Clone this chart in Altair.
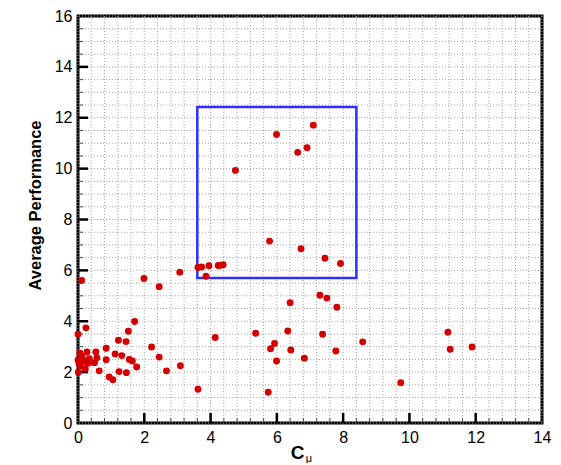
import altair as alt
import pandas as pd

# ---- data ----
cmu = [7.10, 5.99, 6.63, 6.91, 4.75, 5.78, 6.73, 7.45, 7.92, 3.62, 3.73, 3.95, 4.23, 4.30, 4.38, 3.86, 3.07,
       0.11, 1.99, 2.45,
       7.30, 7.51, 6.40, 7.81, 4.14, 5.36, 6.33, 7.38, 8.59, 5.93, 5.81, 6.42, 7.78, 5.99, 6.83, 3.62, 5.74,
       11.16, 11.23, 11.89, 9.74,
       1.71, 0.24, 0.00, 1.52, 1.22, 1.45, 0.85, 2.22, 0.27, 0.54, 1.12, 1.32, 2.45, 0.85, 1.55, 1.64, 1.77,
       0.64, 1.24, 1.46, 2.67, 3.09, 0.94, 1.05, 0.00, 0.17, 0.34, 0.57, 0.50, 0.07, 0.22,
       0.06, 0.12, 0.03, 0.28, 0.38, 0.01]
perf = [11.71, 11.34, 10.64, 10.82, 9.93, 7.15, 6.85, 6.48, 6.27, 6.11, 6.13, 6.18, 6.19, 6.20, 6.22, 5.77, 5.93,
        5.60, 5.68, 5.36,
        5.02, 4.91, 4.73, 4.55, 3.36, 3.53, 3.62, 3.49, 3.19, 3.13, 2.92, 2.87, 2.83, 2.44, 2.55, 1.33, 1.21,
        3.57, 2.90, 2.99, 1.58,
        3.99, 3.74, 3.49, 3.61, 3.25, 3.20, 2.94, 2.99, 2.79, 2.79, 2.71, 2.65, 2.59, 2.49, 2.50, 2.44, 2.20,
        2.05, 2.02, 1.98, 2.05, 2.25, 1.81, 1.70, 2.48, 2.44, 2.53, 2.57, 2.37, 2.24, 2.12,
        2.74, 2.61, 2.34, 2.34, 2.39, 2.00]

box_x1 = [3.6]
box_x2 = [8.4]
box_y1 = [5.70]
box_y2 = [12.42]

x_major = [0, 2, 4, 6, 8, 10, 12, 14]
y_major = [0, 2, 4, 6, 8, 10, 12, 14, 16]
x_grid = [round(0.4 * i, 1) for i in range(36)]
y_grid = [round(0.5 * i, 1) for i in range(33)]
x_major_ticks = [2, 4, 6, 8, 10, 12]
y_major_ticks = [2, 4, 6, 8, 10, 12, 14]
x_minor_ticks = [v for v in x_grid if abs(v / 2 - round(v / 2)) > 1e-6]
y_minor_ticks = [v for v in y_grid if abs(v / 2 - round(v / 2)) > 1e-6]

x_title = ["C"]
x_title_sub = ["μ"]
y_title = "Average Performance"

W, H = 464, 407
FONT = "Liberation Sans"

xs = alt.Scale(domain=[0, 14], nice=False, zero=False)
ys = alt.Scale(domain=[0, 16], nice=False, zero=False)

X_AX = alt.Axis(values=x_major, title=None, ticks=False, grid=False, domain=False, format="d",
                labelFont=FONT, labelFontSize=16, labelColor="black", labelPadding=6,
                labelOverlap=False, labelFlush=False)
Y_AX = alt.Axis(values=y_major, title=y_title, ticks=False, grid=False, domain=False, format="d",
                labelFont=FONT, labelFontSize=16, labelColor="black", labelPadding=6,
                labelOverlap=False, labelFlush=False,
                titleFont=FONT, titleFontSize=16.5, titleFontWeight="bold", titleColor="black",
                titlePadding=11, titleY=189)


def X(field="x"):
    return alt.X(f"{field}:Q", scale=xs, axis=X_AX)


def Y(field="y"):
    return alt.Y(f"{field}:Q", scale=ys, axis=Y_AX)


# grid
grid_v = alt.Chart(pd.DataFrame({"x": x_grid})).mark_rule(
    color="#a0a0a0", strokeDash=[1, 2], strokeWidth=1).encode(x=X())
grid_h = alt.Chart(pd.DataFrame({"y": y_grid})).mark_rule(
    color="#a0a0a0", strokeDash=[1, 2], strokeWidth=1).encode(y=Y())

# inward ticks
xt_major = alt.Chart(pd.DataFrame({"x": x_major_ticks})).mark_rule(color="black", strokeWidth=2.5).encode(
    x=X(), y=alt.value(H), y2=alt.value(H - 10))
xt_minor = alt.Chart(pd.DataFrame({"x": x_minor_ticks})).mark_rule(color="#444444", strokeWidth=1).encode(
    x=X(), y=alt.value(H), y2=alt.value(H - 5))
yt_major = alt.Chart(pd.DataFrame({"y": y_major_ticks})).mark_rule(color="black", strokeWidth=2.5).encode(
    y=Y(), x=alt.value(0), x2=alt.value(10))
yt_minor = alt.Chart(pd.DataFrame({"y": y_minor_ticks})).mark_rule(color="#444444", strokeWidth=1).encode(
    y=Y(), x=alt.value(0), x2=alt.value(5))

# blue box
box = alt.Chart(pd.DataFrame({"x": box_x1, "x2": box_x2, "y": box_y1, "y2": box_y2})).mark_rect(
    fillOpacity=0, stroke="#2e2eff", strokeWidth=2.5
).encode(x=X(), x2="x2:Q", y=Y(), y2="y2:Q")

# points
pts = alt.Chart(pd.DataFrame({"x": cmu, "y": perf})).mark_circle(
    color="#d40000", opacity=1, size=48
).encode(x=X(), y=Y())

t1 = alt.Chart(pd.DataFrame({"t": x_title})).mark_text(
    font=FONT, fontSize=19, fontWeight="bold", color="black", baseline="middle", align="center"
).encode(text="t:N", x=alt.value(219.5), y=alt.value(437))
t2 = alt.Chart(pd.DataFrame({"t": x_title_sub})).mark_text(
    font=FONT, fontSize=11, color="black", baseline="middle", align="center"
).encode(text="t:N", x=alt.value(231), y=alt.value(443))

chart = alt.layer(grid_v, grid_h, xt_minor, yt_minor, xt_major, yt_major, box, pts, t1, t2).properties(
    width=W, height=H,
    autosize=alt.AutoSizeParams(type="none"),
    padding={"left": 70, "top": 8, "right": 10, "bottom": 40},
    background="white",
).configure_view(stroke="black", strokeWidth=3)

chart.save("out.html", embed_options={"renderer": "svg", "actions": False})
